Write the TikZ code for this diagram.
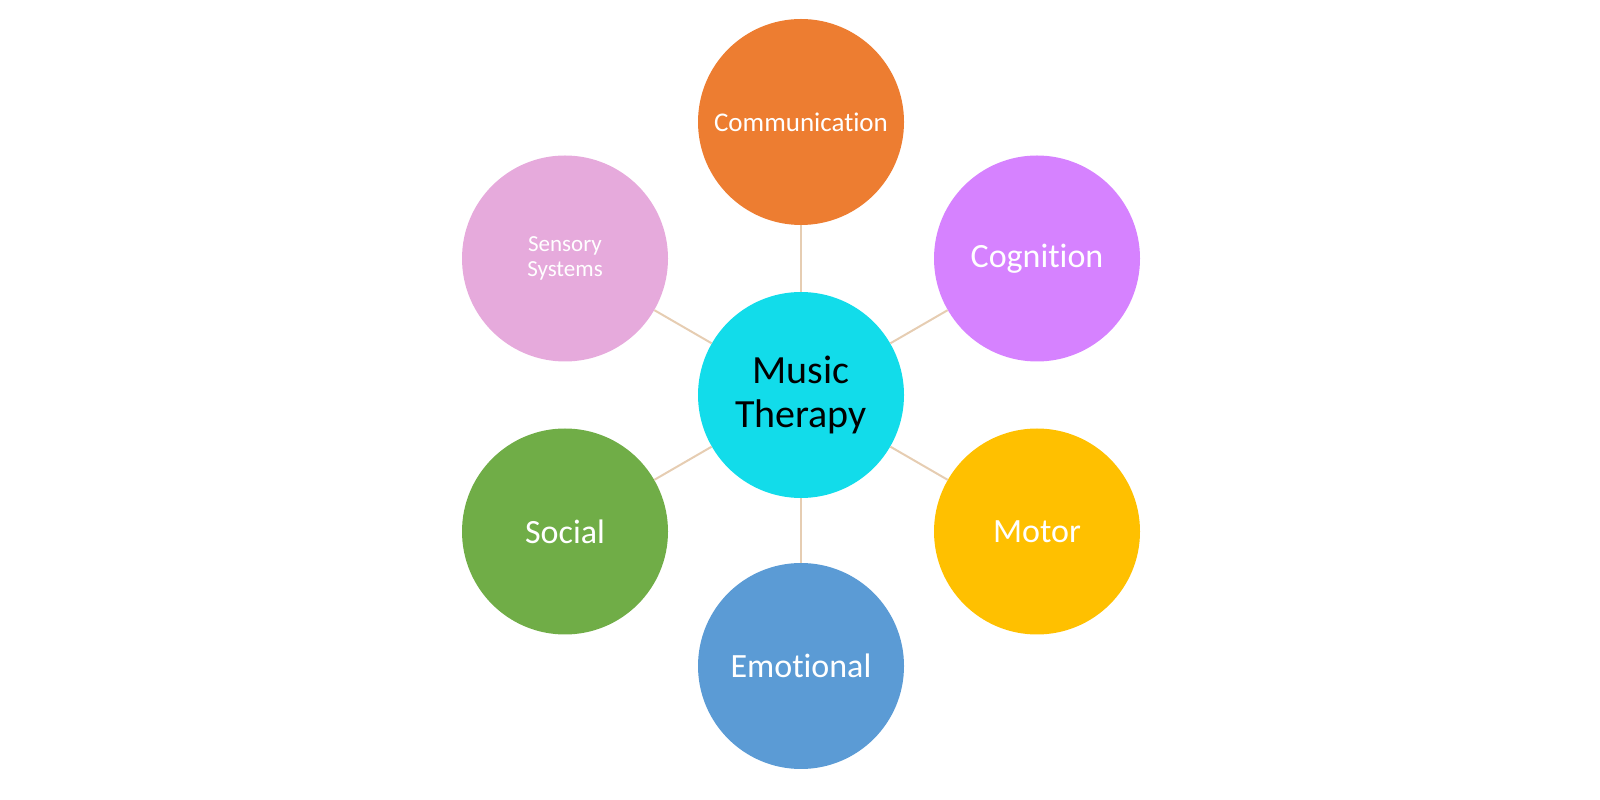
\documentclass[tikz,border=0pt]{standalone}
\usepackage{fontspec}
\setmainfont[Ligatures={NoCommon}]{Carlito}
\definecolor{comorange}{RGB}{237,125,49}
\definecolor{cogviolet}{RGB}{214,130,255}
\definecolor{motyellow}{RGB}{255,192,0}
\definecolor{emoblue}{RGB}{91,155,213}
\definecolor{socgreen}{RGB}{112,173,71}
\definecolor{senpink}{RGB}{230,170,220}
\definecolor{mtcyan}{RGB}{18,220,234}
\definecolor{spoke}{RGB}{230,205,178}

\begin{document}
\begin{tikzpicture}[x=1pt, y=1pt,
  bubble/.style={circle, minimum size=206pt, inner sep=0pt, text=white, align=center},
  link/.style={spoke, line width=2pt}]
\useasboundingbox (0,0) rectangle (1600,800);
\node[bubble, fill=mtcyan, text=black, font=\fontsize{40}{44}\selectfont] (MT) at (801,405) {Music\\Therapy};
\node[bubble, fill=comorange, font=\fontsize{27}{30}\selectfont] (com) at (801,678) {Communication};
\node[bubble, fill=cogviolet, font=\fontsize{34}{38}\selectfont] (cog) at (1037,541.5) {Cognition};
\node[bubble, fill=motyellow, font=\fontsize{34}{38}\selectfont] (mot) at (1037,268.5) {Motor};
\node[bubble, fill=emoblue, font=\fontsize{34}{38}\selectfont] (emo) at (801,134) {Emotional};
\node[bubble, fill=socgreen, font=\fontsize{34}{38}\selectfont] (soc) at (565,268.5) {Social};
\node[bubble, fill=senpink, font=\fontsize{23}{25}\selectfont] (sen) at (565,541.5) {Sensory\\Systems};
\draw[link] (MT) -- (com);
\draw[link] (MT) -- (cog);
\draw[link] (MT) -- (mot);
\draw[link] (MT) -- (emo);
\draw[link] (MT) -- (soc);
\draw[link] (MT) -- (sen);
\end{tikzpicture}
\end{document}
